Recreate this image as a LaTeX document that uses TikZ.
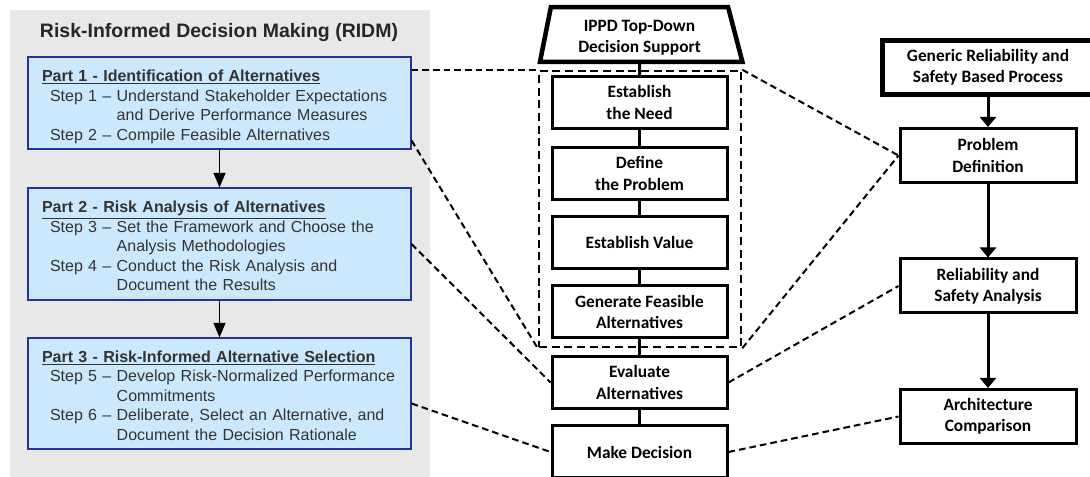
\documentclass[tikz,border=0pt]{standalone}
\usepackage{fontspec}
\setmainfont{Liberation Sans}
\newfontfamily\calibri{Carlito}
\usetikzlibrary{arrows.meta,shapes.geometric,calc}
\definecolor{panelgrey}{RGB}{232,232,232}
\definecolor{ridmfill}{RGB}{204,232,252}
\definecolor{ridmline}{RGB}{40,50,150}
\definecolor{ridmtext}{RGB}{51,51,51}

\begin{document}
\begin{tikzpicture}[x=0.75pt, y=-0.75pt,
        ridm/.style={draw=ridmline, line width=0.8pt, fill=ridmfill, text width=266.25pt,
            inner xsep=10.5pt, align=left, text=ridmtext, font=\fontsize{12pt}{14.6pt}\selectfont},
        stepbox/.style={draw, line width=2.25pt, minimum width=131.25pt, minimum height=39pt,
            align=center, inner sep=0pt, font=\calibri\bfseries\fontsize{13pt}{16pt}\selectfont},
        procbox/.style={stepbox, minimum width=132pt, minimum height=40.5pt},
        link/.style={line width=2.25pt},
        flow/.style={line width=2.25pt, -{Triangle[width=12pt,length=7.5pt]}},
        ridmflow/.style={line width=1.1pt, -{Triangle[width=9pt,length=11pt]}},
        zoomlink/.style={line width=1.5pt, dash pattern=on 5pt off 3pt}
    ]
        \useasboundingbox (0,0) rectangle (1090,477);
        \clip (0,0) rectangle (1090,477);

        % RIDM panel
        \fill[panelgrey] (10,10) rectangle (430,477);
        \node[font=\bfseries\fontsize{14.6pt}{17pt}\selectfont, text=black!85] (ridmtitle) at (219,33)
            {Risk-Informed Decision Making (RIDM)};

        \node[ridm, minimum height=69pt] (ridm1) at (219.5,103) {\raisebox{-3pt}[\height][\depth]{%
            \begin{tabular}{@{}l@{}l@{}}
            \multicolumn{2}{@{}l@{}}{\textbf{\underline{Part 1 - Identification of Alternatives}}}\\
            \hspace{6pt}Step 1 --~ & Understand Stakeholder Expectations\\
             & and Derive Performance Measures\\
            \hspace{6pt}Step 2 --~ & Compile Feasible Alternatives
            \end{tabular}}};
        \node[ridm, minimum height=84pt] (ridm2) at (219.5,244) {\raisebox{-3pt}[\height][\depth]{%
            \begin{tabular}{@{}l@{}l@{}}
            \multicolumn{2}{@{}l@{}}{\textbf{\underline{Part 2 - Risk Analysis of Alternatives}}}\\
            \hspace{6pt}Step 3 --~ & Set the Framework and Choose the\\
             & Analysis Methodologies\\
            \hspace{6pt}Step 4 --~ & Conduct the Risk Analysis and\\
             & Document the Results
            \end{tabular}}};
        \node[ridm, minimum height=83.25pt] (ridm3) at (219.5,393.5) {\raisebox{-3pt}[\height][\depth]{%
            \begin{tabular}{@{}l@{}l@{}}
            \multicolumn{2}{@{}l@{}}{\textbf{\underline{Part 3 - Risk-Informed Alternative Selection}}}\\
            \hspace{6pt}Step 5 --~ & Develop Risk-Normalized Performance\\
             & Commitments\\
            \hspace{6pt}Step 6 --~ & Deliberate, Select an Alternative, and\\
             & Document the Decision Rationale
            \end{tabular}}};

        \foreach \a/\b in {ridm1/ridm2, ridm2/ridm3}
            \draw[ridmflow] (\a) -- (\b);

        % IPPD column
        \node[stepbox, trapezium, trapezium stretches=true, trapezium left angle=80,
            trapezium right angle=77, line width=3.4pt, minimum width=152pt, minimum height=41pt]
            (ippd) at (639.5,34.5) {\raisebox{-2.5pt}[\height][\depth]{%
            \begin{tabular}{@{}c@{}}IPPD Top-Down\\Decision Support\end{tabular}}};
        \node[draw, line width=1.9pt, dash pattern=on 6pt off 3.5pt, minimum width=151.5pt,
            minimum height=207pt] (grp) at (640,209) {};
        \node[stepbox] (need) at (639.5,102.5) {Establish\\the Need};
        \node[stepbox] (defprob) at (639.5,173.5) {Define\\the Problem};
        \node[stepbox] (value) at (639.5,242.5) {Establish Value};
        \node[stepbox] (gen) at (639.5,312) {Generate Feasible\\Alternatives};
        \node[stepbox] (eval) at (639.5,382.5) {Evaluate\\Alternatives};
        \node[stepbox] (decide) at (639.5,452) {Make Decision};

        \foreach \a/\b in {ippd/need, need/defprob, defprob/value, value/gen, gen/eval, eval/decide}
            \draw[link] (\a) -- (\b);

        % Reliability column (generic box runs off the right edge)
        \node[procbox, line width=3.75pt, minimum width=180pt] (generic) at (1002,68)
            {\begin{tabular}{@{}c@{\hspace{21pt}}}Generic Reliability and\\Safety Based Process\end{tabular}};
        \node[procbox] (probdef) at (988,155.5) {Problem\\Definition};
        \node[procbox] (reliab) at (988,286) {Reliability and\\Safety Analysis};
        \node[procbox] (arch) at (988,416.5) {Architecture\\Comparison};

        \draw[flow] (generic.south -| probdef.north) -- (probdef);
        \foreach \a/\b in {probdef/reliab, reliab/arch}
            \draw[flow] (\a) -- (\b);

        % dashed mapping lines
        \draw[zoomlink] (grp.north -| ridm1.east) -- (grp.north west);
        \draw[zoomlink] ($(ridm1.south east)+(0,-9)$) -- (grp.south west);
        \draw[zoomlink] (ridm2.east) -- (eval.west);
        \draw[zoomlink] ($(ridm3.east)+(0,10)$) -- (decide.west);
        \draw[zoomlink] (grp.north east) -- (probdef.west);
        \draw[zoomlink] (grp.south east) -- (probdef.west);
        \draw[zoomlink] (eval.east) -- (reliab.west);
        \draw[zoomlink] (decide.east) -- (arch.west);

    \end{tikzpicture}
\end{document}
